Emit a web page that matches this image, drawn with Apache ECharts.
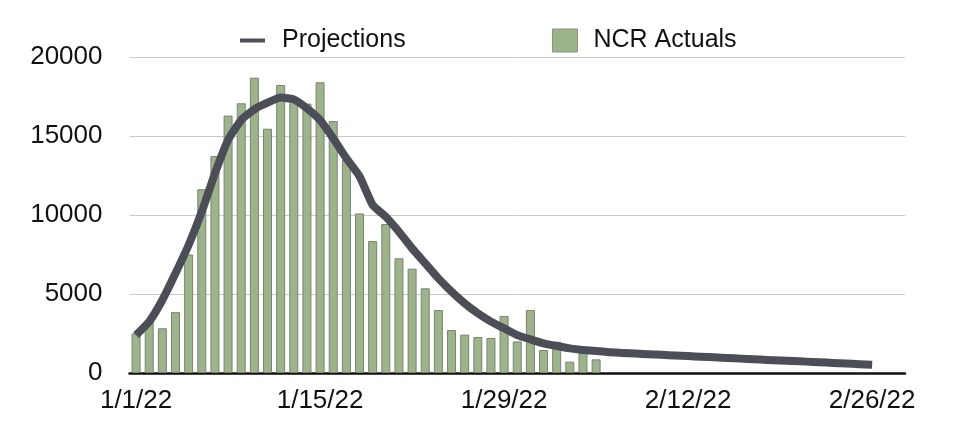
<!DOCTYPE html>
<html>
<head>
<meta charset="utf-8">
<script src="https://cdn.jsdelivr.net/npm/echarts@6/dist/echarts.min.js"></script>
<style>
html,body{margin:0;padding:0;background:#fff;}
#c{width:958px;height:438px;}
</style>
</head>
<body>
<div id="c"></div>
<script>
const categories = [
  '1/1/22','1/2/22','1/3/22','1/4/22','1/5/22','1/6/22','1/7/22','1/8/22','1/9/22','1/10/22',
  '1/11/22','1/12/22','1/13/22','1/14/22','1/15/22','1/16/22','1/17/22','1/18/22','1/19/22','1/20/22',
  '1/21/22','1/22/22','1/23/22','1/24/22','1/25/22','1/26/22','1/27/22','1/28/22','1/29/22','1/30/22',
  '1/31/22','2/1/22','2/2/22','2/3/22','2/4/22','2/5/22','2/6/22','2/7/22','2/8/22','2/9/22',
  '2/10/22','2/11/22','2/12/22','2/13/22','2/14/22','2/15/22','2/16/22','2/17/22','2/18/22','2/19/22',
  '2/20/22','2/21/22','2/22/22','2/23/22','2/24/22','2/25/22','2/26/22','2/27/22','2/28/22'
];
const ncrActuals = [
  2500, 3300, 2830, 3850, 7500, 11630, 13730, 16290, 17070, 18690,
  15460, 18230, 17300, 17050, 18400, 15950, 13480, 10100, 8350, 9430,
  7260, 6600, 5360, 3990, 2720, 2430, 2280, 2215, 3610, 2000,
  3990, 1455, 1980, 720, 1280, 865
];
const projections = [
  2400, 3250, 4620, 6310, 8100, 10210, 12640, 14750, 16010, 16690,
  17110, 17430, 17320, 16750, 16010, 14850, 13590, 12450, 10630, 9890,
  8940, 7890, 6940, 5990, 5150, 4410, 3780, 3250, 2830, 2400,
  2130, 1880, 1710, 1560, 1460, 1390, 1320, 1270, 1230, 1190,
  1150, 1110, 1070, 1030, 990, 950, 910, 870, 830, 790,
  760, 720, 680, 640, 600, 560, 520
];
const yTicks = [0, 5000, 10000, 15000, 20000];

const FONT = '"Liberation Sans", Arial, Helvetica, sans-serif';
const chart = echarts.init(document.getElementById('c'), null, {renderer: 'canvas'});
chart.setOption({
  animation: false,
  backgroundColor: '#ffffff',
  textStyle: {fontFamily: FONT},
  legend: [
    {
      data: ['Projections'],
      left: 235, top: 23,
      icon: 'rect',
      itemWidth: 25, itemHeight: 4,
      textStyle: {fontSize: 25, color: '#111', fontFamily: FONT, padding: [0, 0, 0, 12]}
    },
    {
      data: ['NCR Actuals'],
      left: 547, top: 23,
      icon: 'rect',
      itemWidth: 25, itemHeight: 23,
      itemStyle: {borderColor: '#8a9282', borderWidth: 1},
      textStyle: {fontSize: 25, color: '#111', fontFamily: FONT, padding: [0, 0, 0, 11]}
    }
  ],
  grid: {left: 129.5, right: 53, top: 57, bottom: 65, containLabel: false},
  xAxis: {
    type: 'category',
    data: categories,
    boundaryGap: true,
    axisLine: {show: true, lineStyle: {color: '#111', width: 2.5}},
    axisTick: {show: false},
    axisLabel: {
      interval: 13,
      fontSize: 26,
      color: '#111',
      fontFamily: FONT,
      margin: 15
    },
    splitLine: {show: false}
  },
  yAxis: {
    type: 'value',
    min: yTicks[0],
    max: yTicks[yTicks.length - 1],
    interval: 5000,
    axisLine: {show: false},
    axisTick: {show: false},
    axisLabel: {
      fontSize: 26, color: '#111', fontFamily: FONT, margin: 27,
      formatter: function (v) { return String(v); }
    },
    splitLine: {show: true, lineStyle: {color: '#c9c9c9', width: 1}}
  },
  series: [
    {
      name: 'NCR Actuals',
      type: 'bar',
      data: ncrActuals,
      barWidth: 9,
      itemStyle: {color: '#9cb48a', borderColor: '#7b8472', borderWidth: 1},
      z: 2
    },
    {
      name: 'Projections',
      type: 'line',
      data: projections,
      smooth: 0.15,
      showSymbol: false,
      symbol: 'none',
      lineStyle: {color: '#4b4e57', width: 8, join: 'round', cap: 'butt'},
      itemStyle: {color: '#4b4e57'},
      z: 3
    }
  ]
});
</script>
</body>
</html>
